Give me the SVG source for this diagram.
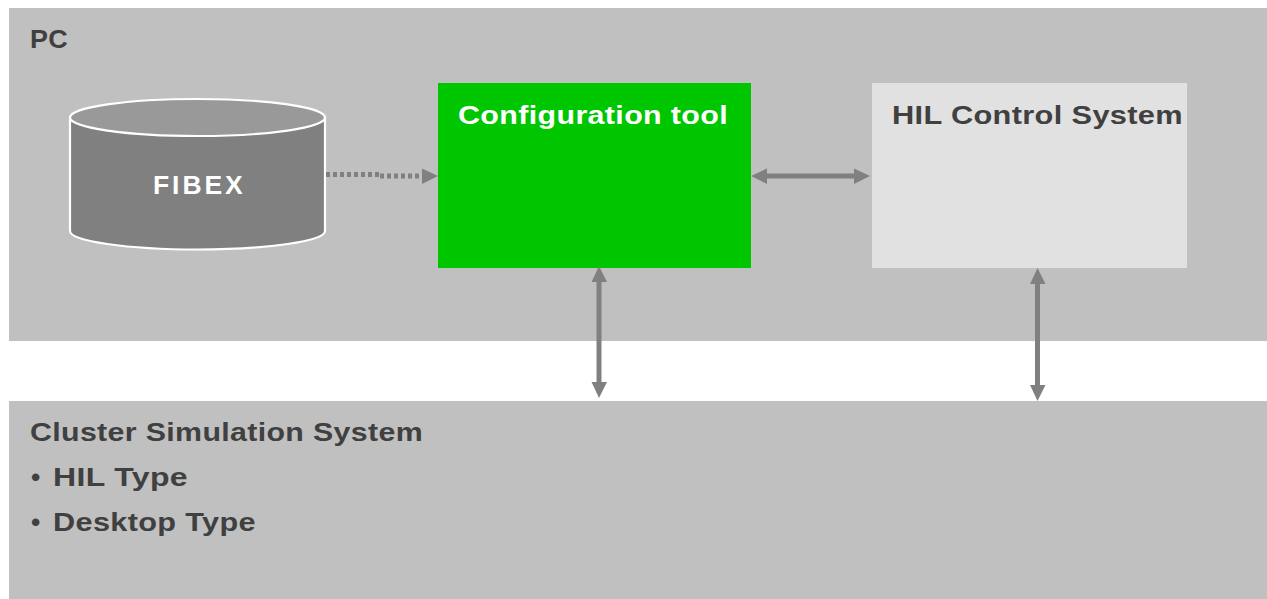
<svg xmlns="http://www.w3.org/2000/svg" width="1267" height="599" viewBox="0 0 1267 599">
<style>
text{font-family:"Liberation Sans",Arial,sans-serif;font-weight:700;font-size:26.500px;fill:#404040;letter-spacing:0.3px}
.w{fill:#fff}
.c{fill:none;stroke:#808080;stroke-width:5}
.h{fill:#808080;stroke:none}
</style>
<rect width="1267" height="599" fill="#fff"/>
<g id="pc"><rect x="9" y="8" width="1258" height="333" fill="#c0c0c0"/>
<text x="30" y="48" textLength="38" lengthAdjust="spacingAndGlyphs">PC</text></g>
<g id="cluster"><rect x="9" y="401" width="1258" height="198" fill="#c0c0c0"/>
<text x="30" y="441" textLength="393" lengthAdjust="spacingAndGlyphs">Cluster Simulation System</text>
<text x="31" y="486">•</text>
<text x="53" y="486" textLength="135" lengthAdjust="spacingAndGlyphs">HIL Type</text>
<text x="31" y="531">•</text>
<text x="53" y="531" textLength="203" lengthAdjust="spacingAndGlyphs">Desktop Type</text></g>
<g id="fibex">
<path d="M70 117V231C70 241 127 249.500 197.500 249.500S325 241 325 231V117Z" fill="#808080" stroke="#fff" stroke-width="2.200"/>
<ellipse cx="197.500" cy="117.500" rx="127.500" ry="18.500" fill="#999" stroke="#fff" stroke-width="2.200"/>
<text class="w" x="153" y="194" textLength="90">FIBEX</text></g>
<g id="config"><rect x="438" y="83" width="313" height="185" fill="#00c600"/>
<text class="w" x="458" y="124" textLength="270" lengthAdjust="spacingAndGlyphs">Configuration tool</text></g>
<g id="hil"><rect x="872" y="83" width="315" height="185" fill="#e1e1e1"/>
<text x="892" y="124" textLength="291" lengthAdjust="spacingAndGlyphs">HIL Control System</text></g>
<g id="connectors">
<path class="c" d="M326 174.500H379" stroke-dasharray="4 3"/>
<path class="c" d="M380 176H423" stroke-dasharray="4 3"/>
<path class="h" d="M438 176L422 168.500V184Z"/>
<path class="c" d="M765 176H856"/>
<path class="h" d="M751 176L767 168.500V184Z"/>
<path class="h" d="M870 176L854 168.500V184Z"/>
<path class="c" d="M599 280V385"/>
<path class="h" d="M599 266L591.500 282H607Z"/>
<path class="h" d="M599 398L591.500 382H607Z"/>
<path class="c" d="M1037.500 282V388"/>
<path class="h" d="M1037.500 268L1030 284H1045.500Z"/>
<path class="h" d="M1037.500 401L1030 385H1045.500Z"/>
</g>
</svg>
